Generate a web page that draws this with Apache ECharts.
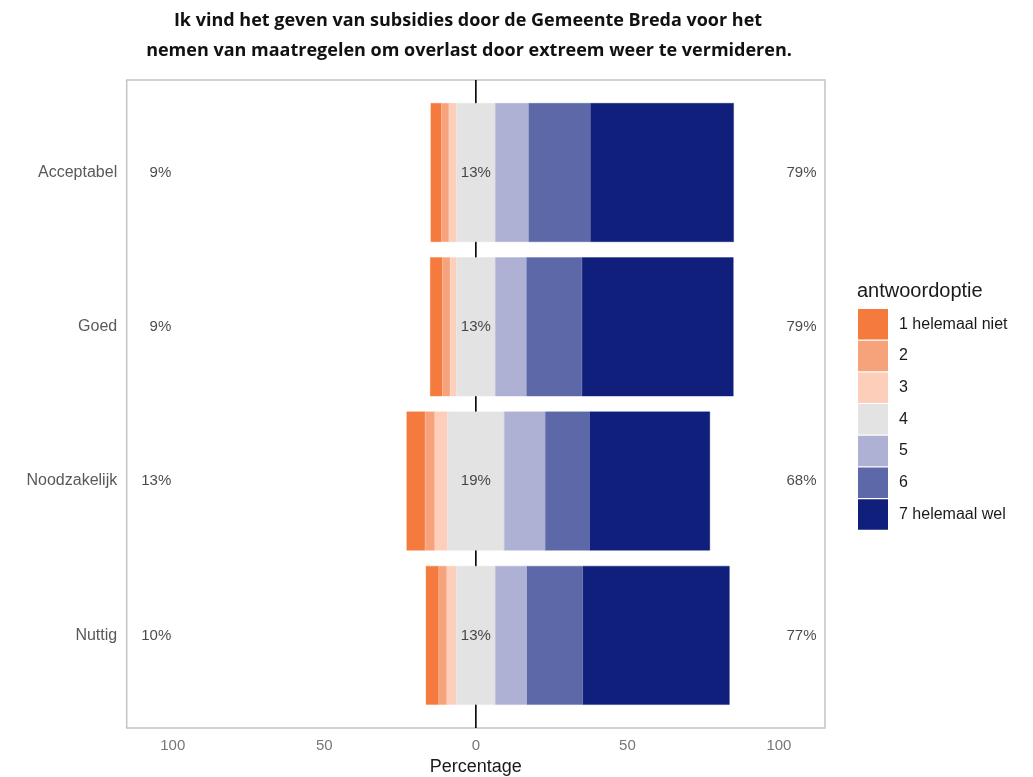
<!DOCTYPE html>
<html><head><meta charset="utf-8">
<script src="https://cdn.jsdelivr.net/npm/echarts@6/dist/echarts.min.js"></script>
<style>html,body{margin:0;padding:0;background:#fff}#c{width:1033px;height:777px}</style>
</head><body><div id="c"></div>
<script>
// ---- data ----
const categories = ['Acceptabel', 'Goed', 'Noodzakelijk', 'Nuttig'];
const answerNames = ['1 helemaal niet', '2', '3', '4', '5', '6', '7 helemaal wel'];
const v1 = [3.5, 4.0, 6.1, 4.2];
const v2 = [2.5, 2.6, 3.2, 2.7];
const v3 = [2.5, 2.1, 4.2, 3.2];
const v4 = [12.8, 12.8, 18.7, 12.8];
const v5 = [11.0, 10.3, 13.5, 10.4];
const v6 = [20.4, 18.3, 14.7, 18.5];
const v7 = [47.3, 50.0, 39.7, 48.4];
const lowLabels = ['9%', '9%', '13%', '10%'];
const midLabels = ['13%', '13%', '19%', '13%'];
const highLabels = ['79%', '79%', '68%', '77%'];
const tickValues = [-100, -50, 0, 50, 100];

// ---- style ----
const colors = ['#F47B3D', '#F6A37C', '#FDCFBA', '#E3E3E3', '#AEB1D4', '#5D68A8', '#101F7B'];
const X_MIN = -115.2, X_MAX = 115.2;
const LOW_POS = -100.5, HIGH_POS = 102.5;
const FONT = '"Liberation Sans", Arial, sans-serif';

// diverging offset: bars start left of zero by the "disagree" share plus half the neutral share
const offset = categories.map((c, i) => -(v1[i] + v2[i] + v3[i] + v4[i] / 2));
const segments = [v1, v2, v3, v4, v5, v6, v7];

function barSeries(name, values, color) {
  return {
    name: name, type: 'bar', stack: 'likert', stackStrategy: 'all',
    xAxisIndex: 0, yAxisIndex: 0,
    barWidth: '90%', itemStyle: { color: color, borderColor: color, borderWidth: 0.4 },
    data: values, silent: true, z: 3
  };
}
function labelSeries(pos, labels, align) {
  return {
    type: 'scatter', xAxisIndex: 0, yAxisIndex: 0, symbolSize: 0, silent: true, z: 5,
    data: categories.map((c, i) => [pos, i]),
    label: { show: true, position: 'inside', align: align, verticalAlign: 'middle',
      fontSize: 15, color: '#1a1a1a', fontFamily: FONT,
      formatter: p => labels[p.dataIndex] }
  };
}

const series = [
  { type: 'line', xAxisIndex: 1, yAxisIndex: 1, data: [[0, 0], [0, 1]], symbol: 'none',
    lineStyle: { color: '#000', width: 1.6 }, silent: true, z: 1 },
  { name: 'offset', type: 'bar', stack: 'likert', stackStrategy: 'all',
    xAxisIndex: 0, yAxisIndex: 0, barWidth: '90%',
    itemStyle: { color: 'rgba(0,0,0,0)' }, data: offset, silent: true, z: 0 }
].concat(segments.map((vals, k) => barSeries(answerNames[k], vals, colors[k])))
 .concat([
  labelSeries(LOW_POS, lowLabels, 'right'),
  labelSeries(0, midLabels, 'center'),
  labelSeries(HIGH_POS, highLabels, 'left')
 ]);

const option = {
  animation: false,
  backgroundColor: '#fff',
  textStyle: { fontFamily: FONT },
  grid: [
    { left: 126.7, top: 95.4, width: 698.3, height: 617.1, outerBoundsMode: 'none' },
    { left: 126.7, top: 80, width: 698.3, height: 648, show: true, outerBoundsMode: 'none',
      borderColor: '#c4c4c4', borderWidth: 1.5, backgroundColor: 'transparent' }
  ],
  xAxis: [
    { gridIndex: 0, type: 'value', min: X_MIN, max: X_MAX, show: false },
    { gridIndex: 1, type: 'value', min: X_MIN, max: X_MAX,
      axisLine: { show: false }, axisTick: { show: false }, splitLine: { show: false },
      axisLabel: { customValues: tickValues, formatter: v => String(Math.abs(v)),
        fontSize: 15, color: '#777', margin: 10, fontFamily: FONT },
      name: 'Percentage', nameLocation: 'middle', nameGap: 30,
      nameTextStyle: { fontSize: 18, color: '#1a1a1a', fontFamily: FONT } }
  ],
  yAxis: [
    { gridIndex: 0, type: 'category', data: categories, inverse: true,
      axisLine: { show: false }, axisTick: { show: false }, splitLine: { show: false },
      axisLabel: { fontSize: 16, color: '#595959', margin: 9.5, fontFamily: FONT } },
    { gridIndex: 1, type: 'value', min: 0, max: 1, show: false }
  ],
  legend: {
    data: answerNames, orient: 'vertical', left: 858, top: 309, padding: 0,
    itemWidth: 28, itemHeight: 28.5, itemGap: 1.2, icon: 'rect', selectedMode: false,
    textStyle: { fontSize: 16, color: '#1a1a1a', padding: [0, 0, 0, 7], fontFamily: FONT }
  },
  graphic: [
    { type: 'text', x: 468, y: 21, style: { text: 'Ik vind het geven van subsidies door de Gemeente Breda voor het',
      textAlign: 'center', textVerticalAlign: 'middle', font: 'bold 18px "Open Sans", sans-serif', fill: '#111' } },
    { type: 'text', x: 469, y: 51, style: { text: 'nemen van maatregelen om overlast door extreem weer te vermideren.',
      textAlign: 'center', textVerticalAlign: 'middle', font: 'bold 18px "Open Sans", sans-serif', fill: '#111' } },
    { type: 'text', x: 857, y: 291, style: { text: 'antwoordoptie',
      textAlign: 'left', textVerticalAlign: 'middle', font: '20px "Liberation Sans", Arial, sans-serif', fill: '#1a1a1a' } }
  ],
  series: series
};
echarts.init(document.getElementById('c')).setOption(option);
</script>
</body></html>
